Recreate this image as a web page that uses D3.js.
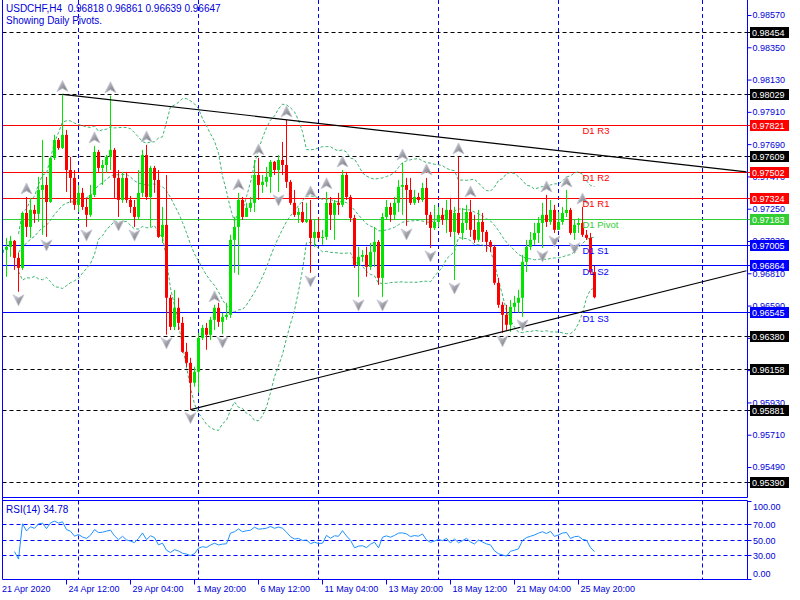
<!DOCTYPE html>
<html><head><meta charset="utf-8">
<script src="https://cdn.jsdelivr.net/npm/d3@7"></script>
<style>
body{margin:0;background:#fff}
svg{display:block}
text{font-family:"Liberation Sans",Arial,sans-serif}
</style>
</head><body>
<svg id="c" width="800" height="600"></svg>
<script>
// ---------------- DATA ----------------
const symbol = "USDCHF";
const timeframe = "H4";
const firstOpen = 0.96950;
const closes = [
0.96970,0.96990,0.97031,0.96915,0.96847,0.97221,0.97126,0.97242,0.97215,0.97378,
0.97412,0.97296,0.97596,0.97719,0.97664,0.97753,0.97514,0.97460,0.97276,0.97358,
0.97262,0.97208,0.97344,0.97637,0.97528,0.97548,0.97603,0.97651,0.97460,0.97310,
0.97460,0.97310,0.97262,0.97194,0.97358,0.97616,0.97330,0.97528,0.97446,0.97058,
0.97140,0.96643,0.96445,0.96575,0.96472,0.96275,0.96200,0.96064,0.96139,0.96370,
0.96438,0.96391,0.96493,0.96575,0.96479,0.96513,0.96527,0.97038,0.97126,0.97310,
0.97194,0.97256,0.97290,0.97480,0.97412,0.97433,0.97467,0.97569,0.97514,0.97582,
0.97548,0.97433,0.97290,0.97208,0.97228,0.97160,0.97174,0.97051,0.97092,0.97051,
0.97058,0.97290,0.97208,0.97290,0.97276,0.97480,0.97330,0.97187,0.96867,0.96922,
0.96935,0.96854,0.96956,0.97024,0.96779,0.97194,0.97262,0.97208,0.97290,0.97399,
0.97412,0.97378,0.97290,0.97330,0.97310,0.97392,0.97208,0.97119,0.97160,0.97208,
0.97174,0.97242,0.97092,0.97221,0.97085,0.97153,0.97228,0.97106,0.97038,0.97160,
0.97092,0.97024,0.96990,0.96745,0.96595,0.96527,0.96459,0.96581,0.96609,0.96643,
0.96888,0.96990,0.97038,0.97085,0.97153,0.97208,0.97160,0.97242,0.97106,0.97160,
0.97221,0.97242,0.97085,0.97140,0.97153,0.97072,0.97051,0.96818,0.96647];
const highs = [
0.97037,0.97051,0.97065,0.97037,0.96949,0.97228,0.97330,0.97324,0.97276,0.97467,
0.97719,0.97467,0.97603,0.97753,0.97732,0.98029,0.97787,0.97603,0.97514,0.97412,
0.97392,0.97324,0.97412,0.97678,0.97651,0.97582,0.97616,0.98020,0.97664,0.97514,
0.97501,0.97501,0.97337,0.97310,0.97514,0.97651,0.97685,0.97542,0.97542,0.97514,
0.97262,0.97480,0.96663,0.96697,0.96643,0.96513,0.96336,0.96234,0.96173,0.96404,
0.96459,0.96472,0.96513,0.96595,0.96609,0.96541,0.96609,0.97072,0.97194,0.97358,
0.97330,0.97290,0.97330,0.97582,0.97596,0.97480,0.97535,0.97582,0.97576,0.97616,
0.97705,0.97855,0.97446,0.97378,0.97256,0.97296,0.97290,0.97310,0.97174,0.97194,
0.97105,0.97365,0.97330,0.97310,0.97358,0.97514,0.97501,0.97344,0.97208,0.96990,
0.96968,0.96990,0.97017,0.97126,0.97037,0.97221,0.97310,0.97290,0.97330,0.97446,
0.97562,0.97460,0.97460,0.97378,0.97358,0.97426,0.97460,0.97228,0.97276,0.97262,
0.97256,0.97310,0.97324,0.97262,0.97603,0.97256,0.97276,0.97310,0.97208,0.97242,
0.97221,0.97105,0.97037,0.97004,0.96779,0.96615,0.96595,0.96628,0.96656,0.96697,
0.96935,0.97038,0.97092,0.97153,0.97194,0.97290,0.97344,0.97310,0.97276,0.97228,
0.97262,0.97378,0.97256,0.97174,0.97187,0.97262,0.97105,0.97085,0.96861];
const lows = [
0.96915,0.96786,0.96922,0.96833,0.96684,0.96833,0.97058,0.97051,0.97153,0.97160,
0.97072,0.97058,0.97290,0.97582,0.97651,0.97657,0.97365,0.97290,0.97242,0.97228,
0.97242,0.97126,0.97194,0.97330,0.97501,0.97412,0.97494,0.97514,0.97324,0.97194,
0.97290,0.97290,0.97221,0.97126,0.97174,0.97330,0.97310,0.97126,0.97358,0.97051,
0.97017,0.96391,0.96423,0.96423,0.96423,0.96268,0.96173,0.95881,0.96037,0.95996,
0.96355,0.96289,0.96355,0.96423,0.96445,0.96397,0.96493,0.96506,0.96813,0.96799,
0.97174,0.97194,0.97228,0.97228,0.97310,0.97358,0.97399,0.97358,0.97480,0.97365,
0.97480,0.97392,0.97276,0.97194,0.97153,0.97153,0.97153,0.96813,0.96990,0.97038,
0.97004,0.97038,0.97105,0.97038,0.97208,0.97262,0.97310,0.97160,0.96847,0.96649,
0.96888,0.96786,0.96833,0.96854,0.96731,0.96649,0.97174,0.97160,0.97174,0.97228,
0.97208,0.97133,0.97276,0.97276,0.97290,0.97296,0.97140,0.96983,0.97105,0.97126,
0.97140,0.97085,0.97058,0.96764,0.97072,0.97038,0.97105,0.97058,0.97017,0.97024,
0.97024,0.96956,0.96956,0.96731,0.96575,0.96404,0.96423,0.96411,0.96547,0.96541,
0.96513,0.96818,0.96968,0.97004,0.97017,0.96983,0.97126,0.97140,0.97085,0.97105,
0.97140,0.97194,0.97072,0.97038,0.97085,0.97058,0.97038,0.96806,0.96639];

const timeLabelBars = [0,16,32,48,64,80,96,112,128,144];
const timeLabelText = ["21 Apr 2020","24 Apr 12:00","29 Apr 04:00","1 May 20:00","6 May 12:00",
  "11 May 04:00","13 May 20:00","18 May 12:00","21 May 04:00","25 May 20:00"];
const weekStartBars = [19,49,79,109,139,175];
const priceTicks = [0.98570,0.98350,0.98130,0.97910,0.97690,0.97470,0.97250,0.97030,
  0.96810,0.96590,0.96370,0.96150,0.95930,0.95710,0.95490];
const pivotNames  = ["D1 R3","D1 R2","D1 R1","D1 Pivot","D1 S1","D1 S2","D1 S3"];
const pivotValues = [0.97821,0.97502,0.97324,0.97183,0.97005,0.96864,0.96545];
const pivotKinds  = ["R","R","R","P","S","S","S"];
const levelValues = [0.98454,0.98029,0.97609,0.96380,0.96158,0.95881,0.95390];
const trendStartBars = [15,47];
const trendStartPrices = [0.98029,0.95881];
const trendEndBars = [186,186];
const trendEndPrices = [0.97501,0.96827];
const upFractalBars = [6,15,23,27,36,53,59,64,71,77,81,85,100,106,114,117,136,141,145];
const downFractalBars = [4,11,21,29,33,41,47,55,69,77,89,95,101,107,113,125,130,135,138,143];
const rsiPeriod = 14;
const rsiLevels = [70,50,30];
const rsiTicks = [100,70,50,30,0];
const rsiCurrent = 34.78;
const bbPeriod = 20, bbDev = 2;

// ---------------- LAYOUT ----------------
const svg = d3.select("#c");
const AXIS_X = 747.5, LEFT_X = 2.5;
const MAIN_BOTTOM = 497.5, RSI_TOP = 500.5, RSI_BOTTOM = 579.5;
const blue = "#0000ff", textBlue = "#0000d8";
const bull = "#00e400", bear = "#ff0000";

const x = d3.scaleLinear().domain([0, 186]).range([2.5, 746.5]);
const y = d3.scaleLinear().domain([0.95490, 0.98570]).range([467, 15]);
const yr = d3.scaleLinear().domain([0, 100]).range([578.5, 500.5]);

const opens = closes.map((c, i) => i === 0 ? firstOpen : closes[i - 1]);
const bars = closes.map((c, i) => ({i, o: opens[i], h: highs[i], l: lows[i], c}));

svg.append("rect").attr("width", 800).attr("height", 600).attr("fill", "#fff");

const defs = svg.append("defs");
defs.append("clipPath").attr("id", "mainclip")
  .append("rect").attr("x", LEFT_X).attr("y", 0).attr("width", AXIS_X - LEFT_X).attr("height", MAIN_BOTTOM);
const grad = defs.append("linearGradient").attr("id", "fracg").attr("x1", 0).attr("y1", 0).attr("x2", 1).attr("y2", 1);
grad.append("stop").attr("offset", "0%").attr("stop-color", "#d8d8e4");
grad.append("stop").attr("offset", "55%").attr("stop-color", "#9a9aa2");
grad.append("stop").attr("offset", "100%").attr("stop-color", "#6e6e74");

// vertical week grid
const g = svg.append("g");
weekStartBars.forEach(b => {
  const xx = x(b);
  [[0, MAIN_BOTTOM], [RSI_TOP, RSI_BOTTOM]].forEach(([a, bb]) => {
    g.append("line").attr("x1", xx).attr("x2", xx).attr("y1", a).attr("y2", bb)
      .attr("stroke", blue).attr("stroke-width", 1).attr("stroke-dasharray", "4,3");
  });
});

const main = svg.append("g").attr("clip-path", "url(#mainclip)");

// dashed black levels
levelValues.forEach(v => {
  const yy = Math.round(y(v)) + 0.5;
  main.append("line").attr("x1", LEFT_X).attr("x2", AXIS_X).attr("y1", yy).attr("y2", yy)
    .attr("stroke", "#000").attr("stroke-dasharray", "4,3");
});
// pivot lines
const pivotColor = k => k === "R" ? "#ff0000" : k === "P" ? "#32cd32" : "#0000ff";
pivotValues.forEach((v, k) => {
  const yy = Math.round(y(v)) + 0.5;
  main.append("line").attr("x1", LEFT_X).attr("x2", AXIS_X).attr("y1", yy).attr("y2", yy)
    .attr("stroke", pivotColor(pivotKinds[k]));
});

// Bollinger bands (computed from closes)
const bbUp = [], bbMid = [], bbLo = [];
closes.forEach((c, i) => {
  if (i < 4) return;
  const win = closes.slice(Math.max(0, i - bbPeriod + 1), i + 1);
  const m = d3.mean(win);
  const sd = Math.sqrt(d3.mean(win.map(v => (v - m) * (v - m))));
  bbMid.push([i, m]); bbUp.push([i, m + bbDev * sd]); bbLo.push([i, m - bbDev * sd]);
});
const bbLine = d3.line().x(d => x(d[0])).y(d => y(d[1]));
[bbUp, bbMid, bbLo].forEach(s => {
  main.append("path").attr("d", bbLine(s)).attr("fill", "none")
    .attr("stroke", "#3cb371").attr("stroke-width", 1).attr("stroke-dasharray", "3,2");
});

// candles
const cg = main.append("g");
bars.forEach(b => {
  const col = b.c >= b.o ? bull : bear;
  const cx = x(b.i);
  cg.append("line").attr("x1", cx).attr("x2", cx).attr("y1", y(b.h)).attr("y2", y(b.l))
    .attr("stroke", col).attr("stroke-width", 1);
  const top = y(Math.max(b.o, b.c)), bot = y(Math.min(b.o, b.c));
  cg.append("rect").attr("x", cx - 1.5).attr("width", 3)
    .attr("y", top).attr("height", Math.max(1, bot - top)).attr("fill", col);
});

// trend lines
trendStartBars.forEach((b, k) => {
  main.append("line").attr("x1", x(b)).attr("y1", y(trendStartPrices[k]))
    .attr("x2", x(trendEndBars[k])).attr("y2", y(trendEndPrices[k]))
    .attr("stroke", "#000").attr("stroke-width", 1.1);
});

// fractals
const arrowUp = "M0,-6 L5.5,5 L0,2 L-5.5,5 Z";
const arrowDn = "M0,6 L5.5,-5 L0,-2 L-5.5,-5 Z";
upFractalBars.forEach(b => {
  main.append("path").attr("d", arrowUp)
    .attr("transform", `translate(${x(b)},${y(highs[b]) - 8})`)
    .attr("fill", "url(#fracg)").attr("stroke", "#c4c4d2").attr("stroke-width", 0.8);
});
downFractalBars.forEach(b => {
  main.append("path").attr("d", arrowDn)
    .attr("transform", `translate(${x(b)},${y(lows[b]) + 8})`)
    .attr("fill", "url(#fracg)").attr("stroke", "#c4c4d2").attr("stroke-width", 0.8);
});

// pivot names
const lastBar = closes.length - 1;
pivotValues.forEach((v, k) => {
  main.append("text").attr("x", x(lastBar - 3)).attr("y", y(v) + 9.5)
    .attr("font-size", "9.5px").attr("fill", pivotColor(pivotKinds[k]))
    .text(pivotNames[k]);
});

// header
svg.append("text").attr("x", 6).attr("y", 12).attr("font-size", "10px").attr("fill", textBlue)
  .attr("xml:space", "preserve")
  .text(`${symbol},${timeframe}  ${[opens[lastBar], highs[lastBar], lows[lastBar], closes[lastBar]].map(d3.format(".5f")).join(" ")}`);
svg.append("text").attr("x", 6).attr("y", 24).attr("font-size", "10px").attr("fill", textBlue)
  .text("Showing Daily Pivots.");

// ---------------- RSI ----------------
const rsi = [];
let ag = 0, al = 0;
for (let i = 1; i < closes.length; i++) {
  const ch = closes[i] - closes[i - 1];
  const gn = Math.max(ch, 0), ls = Math.max(-ch, 0);
  if (i <= rsiPeriod) { ag = (ag * (i - 1) + gn) / i; al = (al * (i - 1) + ls) / i; }
  else { ag = (ag * (rsiPeriod - 1) + gn) / rsiPeriod; al = (al * (rsiPeriod - 1) + ls) / rsiPeriod; }
  if (i >= 3) rsi.push([i, al === 0 ? 100 : 100 - 100 / (1 + ag / al)]);
}
rsiLevels.forEach(v => {
  const yy = Math.round(yr(v)) + 0.5;
  svg.append("line").attr("x1", LEFT_X).attr("x2", AXIS_X).attr("y1", yy).attr("y2", yy)
    .attr("stroke", blue).attr("stroke-dasharray", "4,3");
});
svg.append("path").attr("d", d3.line().x(d => x(d[0])).y(d => yr(d[1]))(rsi))
  .attr("fill", "none").attr("stroke", "#1e90ff").attr("stroke-width", 1);
svg.append("text").attr("x", 6).attr("y", 513).attr("font-size", "10px").attr("fill", textBlue)
  .text(`RSI(${rsiPeriod}) ${rsiCurrent.toFixed(2)}`);

// ---------------- FRAMES & AXES ----------------
const fr = svg.append("g").attr("stroke", blue).attr("stroke-width", 1).attr("fill", "none");
fr.append("line").attr("x1", LEFT_X).attr("x2", LEFT_X).attr("y1", 0).attr("y2", RSI_BOTTOM);
fr.append("line").attr("x1", AXIS_X).attr("x2", AXIS_X).attr("y1", 0).attr("y2", MAIN_BOTTOM);
fr.append("line").attr("x1", AXIS_X).attr("x2", AXIS_X).attr("y1", RSI_TOP).attr("y2", RSI_BOTTOM);
[MAIN_BOTTOM, RSI_TOP, RSI_BOTTOM].forEach(yy =>
  fr.append("line").attr("x1", LEFT_X).attr("x2", AXIS_X).attr("y1", yy).attr("y2", yy));

// price axis
const pa = svg.append("g").attr("transform", `translate(${AXIS_X},0)`)
  .call(d3.axisRight(y).tickValues(priceTicks).tickFormat(d3.format(".5f")).tickSize(4).tickPadding(1));
pa.select(".domain").remove();
pa.selectAll("line").attr("stroke", blue);
pa.selectAll("text").attr("fill", textBlue).attr("font-size", "9px")
  .attr("font-family", "'Liberation Sans',Arial,sans-serif");

// price label boxes
function box(v, col) {
  const yy = Math.round(y(v));
  svg.append("rect").attr("x", 750).attr("y", yy - 5).attr("width", 39).attr("height", 11).attr("fill", col);
  svg.append("text").attr("x", 752).attr("y", yy + 3.5).attr("font-size", "9px").attr("fill", "#fff")
    .text(d3.format(".5f")(v));
  svg.append("line").attr("x1", AXIS_X).attr("x2", 750).attr("y1", yy + 0.5).attr("y2", yy + 0.5).attr("stroke", col);
}
levelValues.forEach(v => box(v, "#000"));
pivotValues.forEach((v, k) => box(v, pivotKinds[k] === "R" ? "#ff0000" : pivotKinds[k] === "P" ? "#32cd32" : "#0000ff"));

// RSI axis
rsiTicks.forEach(v => {
  const yy = Math.round(yr(v)) + 0.5;
  svg.append("line").attr("x1", AXIS_X).attr("x2", AXIS_X + 4).attr("y1", yy).attr("y2", yy).attr("stroke", blue);
  const ty = v === 100 ? yy + 8 : v === 0 ? yy - 3 : yy + 3.5;
  svg.append("text").attr("x", 753).attr("y", ty).attr("font-size", "9px").attr("fill", textBlue)
    .text(v.toFixed(2));
});

// time axis
timeLabelBars.forEach((b, k) => {
  const xx = x(b);
  if (b > 0) svg.append("line").attr("x1", xx).attr("x2", xx).attr("y1", RSI_BOTTOM).attr("y2", RSI_BOTTOM + 5)
    .attr("stroke", blue);
  svg.append("text").attr("x", b === 0 ? 2 : xx + 2).attr("y", 592).attr("font-size", "9px").attr("fill", textBlue)
    .text(timeLabelText[k]);
});
</script>
</body></html>
